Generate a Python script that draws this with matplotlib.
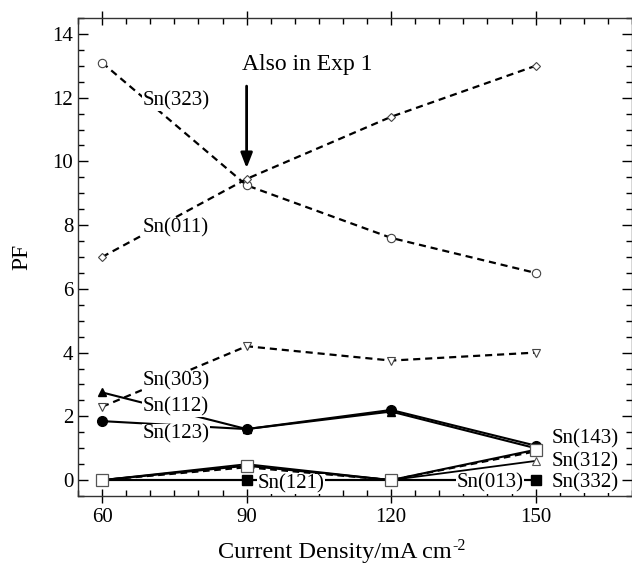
import matplotlib
matplotlib.use("Agg")
import matplotlib.pyplot as plt
from matplotlib.ticker import MultipleLocator

plt.rcParams['font.family'] = ['Liberation Serif', 'DejaVu Serif']

current = [60, 90, 120, 150]

sn323 = [13.1, 9.25, 7.6, 6.5]
sn011 = [7.0, 9.45, 11.4, 13.0]
sn303 = [2.3, 4.2, 3.75, 4.0]
sn112 = [2.75, 1.6, 2.15, 1.0]
sn123 = [1.85, 1.6, 2.2, 1.08]
sn143 = [0.0, 0.45, 0.0, 0.95]
sn312 = [0.0, 0.5, 0.0, 0.6]
sn332 = [0.0, 0.4, 0.0, 0.9]
sn121 = [0.0, 0.0, 0.0, 0.0]
sn013 = [0.0, 0.0, 0.0, 0.0]

fig = plt.figure(figsize=(6.32, 5.66), dpi=100)
ax = fig.add_axes([78/632, 1-496/566, 1-78/632, (496-18)/566])

dash = (0, (3.2, 2.2))
ax.plot(current, sn323, linestyle=dash, color='black', lw=1.6, marker='o', ms=6,
        mfc='white', mec='#444444', mew=0.8)
ax.plot(current, sn011, linestyle=dash, color='black', lw=1.6, marker='D', ms=4.5,
        mfc='white', mec='#444444', mew=0.8)
ax.plot(current, sn303, linestyle=dash, color='black', lw=1.6, marker='v', ms=6,
        mfc='white', mec='#444444', mew=0.8)
ax.plot(current, sn112, linestyle='-', color='black', lw=1.5, marker='^', ms=6,
        mfc='black', mec='black')
ax.plot(current, sn123, linestyle='-', color='black', lw=1.5, marker='o', ms=7,
        mfc='black', mec='black')
ax.plot(current, sn332, linestyle=dash, color='black', lw=1.5)
ax.plot(current, sn312, linestyle='-', color='black', lw=1.3, marker='^', ms=6,
        mfc='white', mec='#555555', mew=0.8)
ax.plot(current, sn013, linestyle='-', color='black', lw=1.5)
ax.plot(current, sn121, linestyle='-', color='black', lw=1.5, marker='s', ms=7,
        mfc='black', mec='black')
ax.plot(current, sn143, linestyle='-', color='black', lw=1.5, marker='s', ms=8,
        mfc='white', mec='#555555', mew=0.9)

lab_kw = dict(fontsize=15, ha='center', va='center',
              bbox=dict(facecolor='white', edgecolor='none', pad=0.5))
ax.text(75.3, 11.9, 'Sn(323)', **lab_kw)
ax.text(75.3, 7.9, 'Sn(011)', **lab_kw)
ax.text(75.3, 3.1, 'Sn(303)', **lab_kw)
ax.text(75.3, 2.3, 'Sn(112)', **lab_kw)
ax.text(75.3, 1.45, 'Sn(123)', **lab_kw)
ax.text(99.3, -0.12, 'Sn(121)', **lab_kw)
ax.text(140.5, -0.1, 'Sn(013)', **lab_kw)
ax.text(160.3, 1.3, 'Sn(143)', **lab_kw)
ax.text(160.3, 0.57, 'Sn(312)', **lab_kw)
ax.text(160.3, -0.08, 'Sn(332)', **lab_kw)

ax.text(102.5, 13.05, 'Also in Exp 1', fontsize=17, ha='center', va='center')
ax.annotate('', xy=(90, 9.7), xytext=(90, 12.45),
            arrowprops=dict(arrowstyle='-|>,head_length=0.9,head_width=0.35',
                            color='black', lw=2))

ax.set_xlim(55, 170)
ax.set_ylim(-0.5, 14.5)
ax.set_xticks(current)
ax.xaxis.set_minor_locator(MultipleLocator(5))
ax.yaxis.set_major_locator(MultipleLocator(2))
ax.yaxis.set_minor_locator(MultipleLocator(0.5))
ax.tick_params(axis='x', which='major', direction='inout', length=10, width=1,
               top=True, labelsize=15)
ax.tick_params(axis='x', which='minor', direction='in', length=4, width=1, top=True)
ax.tick_params(axis='y', which='major', direction='in', length=7, width=1,
               right=True, labelsize=15)
ax.tick_params(axis='y', which='minor', direction='in', length=4, width=1, right=True)
for s in ax.spines.values():
    s.set_linewidth(1.0)
    s.set_color('#333333')

# x label with a hyphen superscript, as in the reference
xl = fig.text(218/632, 1-558/566, 'Current Density/mA cm', fontsize=17.5,
              ha='left', va='baseline')
fig.canvas.draw()
bb = xl.get_window_extent()
fig.text(bb.x1/632 + 1/632, 1-550/566, '-2', fontsize=11.5, ha='left', va='baseline')

ax.set_ylabel('PF', fontsize=17)
ax.yaxis.set_label_coords(-(78-32)/554, 0.5)

fig.savefig('out.png', dpi=100)
